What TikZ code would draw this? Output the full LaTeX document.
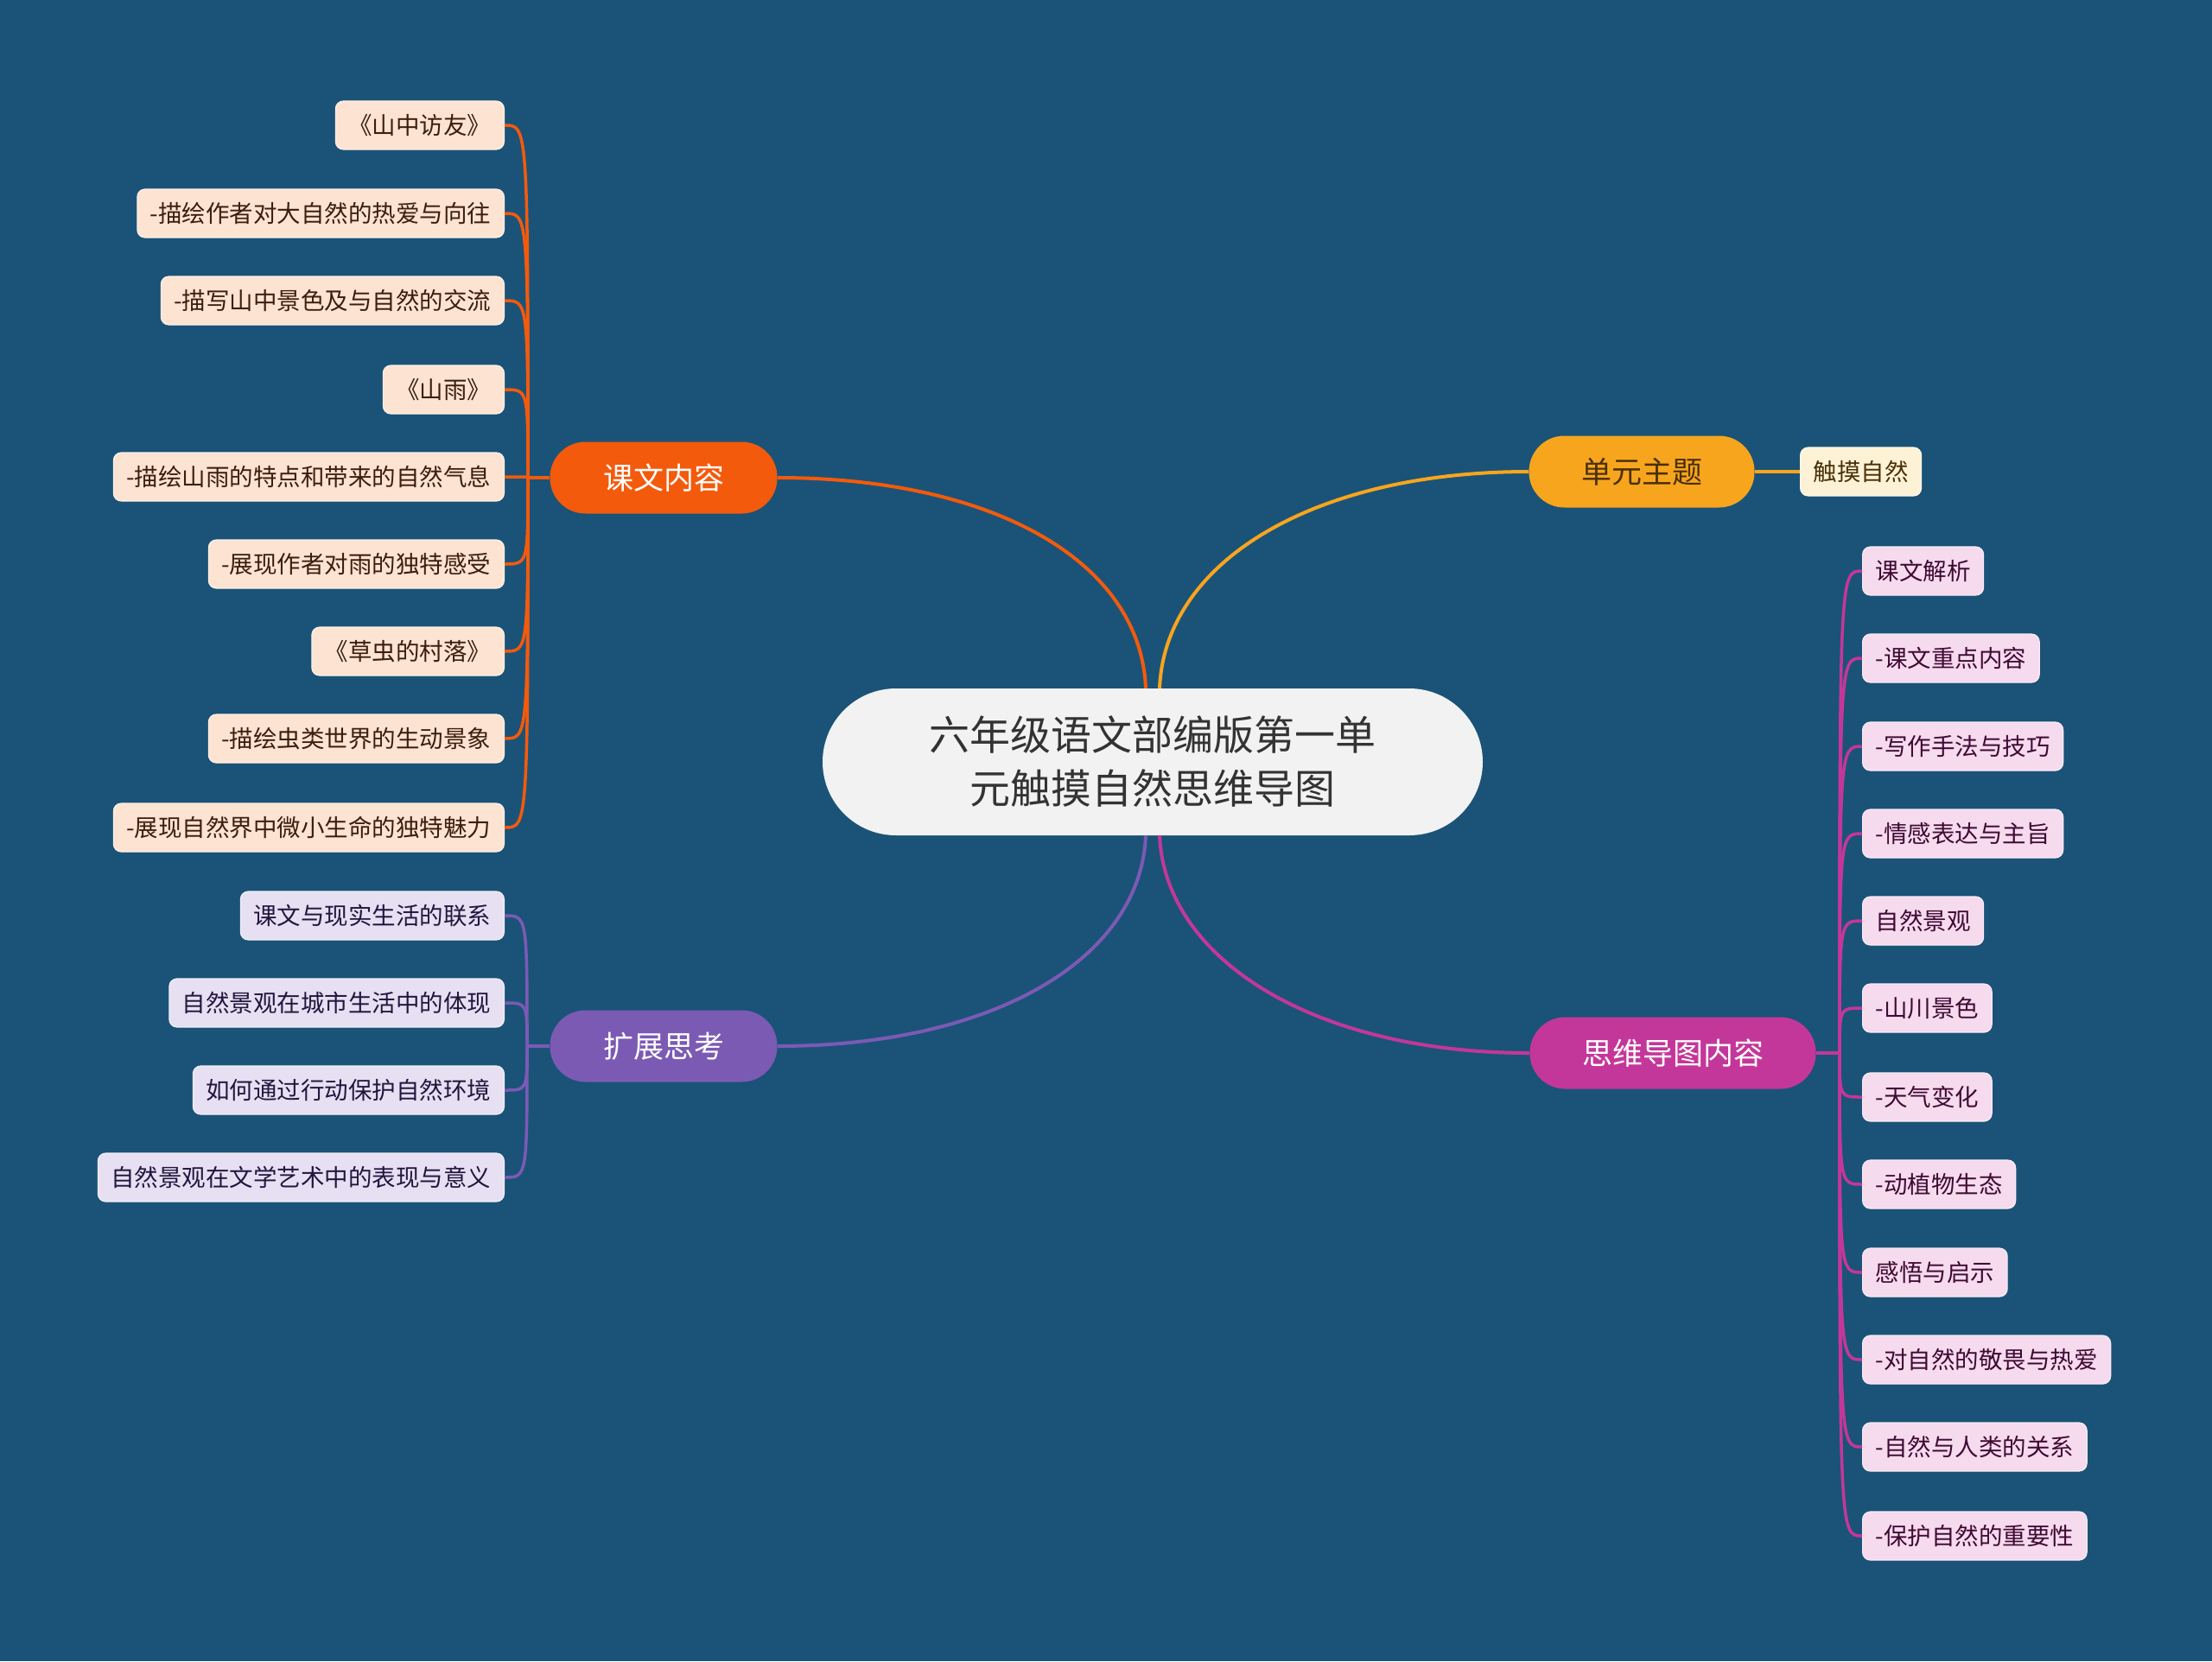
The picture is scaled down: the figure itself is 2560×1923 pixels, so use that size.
\documentclass[tikz,border=0pt]{standalone}
\usepackage{fontspec}
\setmainfont{Noto Sans CJK SC}
\usetikzlibrary{calc}
\definecolor{bg}{HTML}{1A5377}
\definecolor{corg}{HTML}{F45A0C}
\definecolor{cyel}{HTML}{F8A51E}
\definecolor{cpur}{HTML}{7B5AB4}
\definecolor{cmag}{HTML}{C4379A}
\definecolor{fpeach}{HTML}{FDE3D2}
\definecolor{tpeach}{HTML}{3D1E0C}
\definecolor{fpink}{HTML}{F6DAEE}
\definecolor{tpink}{HTML}{3F0A33}
\definecolor{flav}{HTML}{E6E0F2}
\definecolor{tlav}{HTML}{22163F}
\definecolor{fcream}{HTML}{FEF2D6}
\definecolor{tcream}{HTML}{4A3008}
\definecolor{fcen}{HTML}{F2F2F2}
\definecolor{tcen}{HTML}{333333}
\tikzset{
  leafbase/.style={rectangle, rounded corners=9, minimum height=56, inner xsep=15, inner ysep=0, font=\fontsize{27.5}{33}\selectfont, line width=1.2},
  kleaf/.style={leafbase, fill=fpeach, draw=fpeach!50!white, text=tpeach, anchor=east},
  pleaf/.style={leafbase, fill=fpink, draw=fpink!50!white, text=tpink, anchor=west},
  lleaf/.style={leafbase, fill=flav, draw=flav!50!white, text=tlav, anchor=east},
  cleaf/.style={leafbase, fill=fcream, draw=fcream!50!white, text=tcream},
  mainnode/.style={rectangle, rounded corners=41, minimum height=83, inner sep=0, font=\fontsize{35}{40}\selectfont},
  kline/.style={draw=corg, line width=3.5},
  yline/.style={draw=cyel, line width=3.5},
  pline/.style={draw=cpur, line width=3.5},
  mline/.style={draw=cmag, line width=3.5},
}
\begin{document}
\begin{tikzpicture}[x=1pt,y=-1pt]
\fill[bg] (0,0) rectangle (2560,1923);
\useasboundingbox (0,0) rectangle (2560,1923);

% center
\node[rectangle, rounded corners=85, minimum width=764, minimum height=170, fill=fcen, text=tcen, align=center, font=\fontsize{47}{62}\selectfont] (c) at (1334,882) {六年级语文部编版第一单\\元触摸自然思维导图};

% main branches
\node[mainnode, minimum width=263, fill=corg, text=white] (kw) at (768,553) {课文内容};
\node[mainnode, minimum width=261, fill=cyel, text=tcream] (dy) at (1900,546) {单元主题};
\node[mainnode, minimum width=263, fill=cpur, text=white] (kz) at (768,1211) {扩展思考};
\node[mainnode, minimum width=331, fill=cmag, text=white] (sw) at (1936,1219) {思维导图内容};

% center connectors
\draw[kline, line width=4] ($(c.north)+(-8,0)$) .. controls (1320,650) and (1150,553) .. (kw.east);
\draw[yline, line width=4] ($(c.north)+(8,0)$) .. controls (1348,650) and (1520,546) .. (dy.west);
\draw[pline, line width=4] ($(c.south)+(-8,0)$) .. controls (1320,1110) and (1150,1211) .. (kz.east);
\draw[mline, line width=4] ($(c.south)+(8,0)$) .. controls (1348,1110) and (1520,1219) .. (sw.west);

% 单元主题 leaf
\node[cleaf, anchor=west] (d1) at (2083,546) {触摸自然};
\draw[yline] (dy.east) -- (d1.west);

% 课文内容 leaves
\node[kleaf] (k1) at (584,145) {《山中访友》};
\node[kleaf] (k2) at (584,247) {-描绘作者对大自然的热爱与向往};
\node[kleaf] (k3) at (584,348) {-描写山中景色及与自然的交流};
\node[kleaf] (k4) at (584,451) {《山雨》};
\node[kleaf] (k5) at (584,552) {-描绘山雨的特点和带来的自然气息};
\node[kleaf] (k6) at (584,653) {-展现作者对雨的独特感受};
\node[kleaf] (k7) at (584,754) {《草虫的村落》};
\node[kleaf] (k8) at (584,855) {-描绘虫类世界的生动景象};
\node[kleaf] (k9) at (584,958) {-展现自然界中微小生命的独特魅力};
\coordinate (jk) at (611,553);
\draw[kline] (kw.west) -- (jk);
\foreach \n in {k1,k2,k3,k4,k5,k6,k7,k8,k9}
  \draw[kline] (jk) .. controls (jk |- \n.east) .. (\n.east);

% 扩展思考 leaves
\node[lleaf] (l1) at (584,1060) {课文与现实生活的联系};
\node[lleaf] (l2) at (584,1161) {自然景观在城市生活中的体现};
\node[lleaf] (l3) at (584,1262) {如何通过行动保护自然环境};
\node[lleaf] (l4) at (584,1363) {自然景观在文学艺术中的表现与意义};
\coordinate (jl) at (610,1211);
\draw[pline] (kz.west) -- (jl);
\foreach \n in {l1,l2,l3,l4}
  \draw[pline] (jl) .. controls (jl |- \n.east) .. (\n.east);

% 思维导图内容 leaves
\node[pleaf] (p1) at (2155,661) {课文解析};
\node[pleaf] (p2) at (2155,762) {-课文重点内容};
\node[pleaf] (p3) at (2155,864) {-写作手法与技巧};
\node[pleaf] (p4) at (2155,965) {-情感表达与主旨};
\node[pleaf] (p5) at (2155,1066) {自然景观};
\node[pleaf] (p6) at (2155,1167) {-山川景色};
\node[pleaf] (p7) at (2155,1270) {-天气变化};
\node[pleaf] (p8) at (2155,1371) {-动植物生态};
\node[pleaf] (p9) at (2155,1473) {感悟与启示};
\node[pleaf] (p10) at (2155,1574) {-对自然的敬畏与热爱};
\node[pleaf] (p11) at (2155,1675) {-自然与人类的关系};
\node[pleaf] (p12) at (2155,1778) {-保护自然的重要性};
\coordinate (jm) at (2129,1219);
\draw[mline] (sw.east) -- (jm);
\foreach \n in {p1,p2,p3,p4,p5,p6,p7,p8,p9,p10,p11,p12}
  \draw[mline] (jm) .. controls (jm |- \n.west) .. (\n.west);
\end{tikzpicture}
\end{document}
